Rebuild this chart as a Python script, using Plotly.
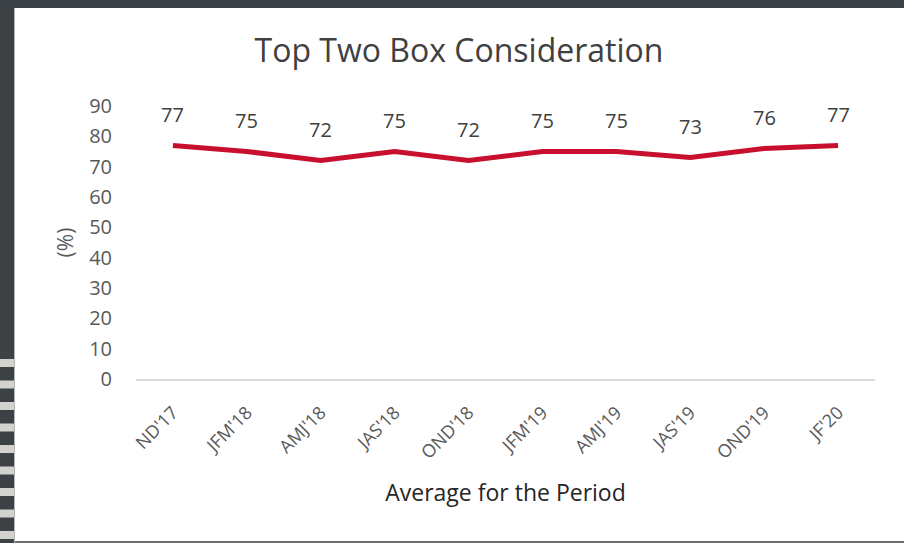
import plotly.graph_objects as go

periods = ["ND'17", "JFM'18", "AMJ'18", "JAS'18", "OND'18", "JFM'19", "AMJ'19", "JAS'19", "OND'19", "JF'20"]
values = [77, 75, 72, 75, 72, 75, 75, 73, 76, 77]
y_ticks = [0, 10, 20, 30, 40, 50, 60, 70, 80, 90]

W, H = 904, 543
ML, MR, MT, MB = 136, 29, 106, 164
PW, PH = W - ML - MR, H - MT - MB
FONT = "Open Sans"


def px_x(px):
    return (px - ML) / PW


def px_y(py):
    return (H - MB - py) / PH


fig = go.Figure()
fig.add_trace(go.Scatter(
    x=periods, y=values, mode="lines",
    line=dict(color="#C8102E", width=5),
    hoverinfo="x+y", showlegend=False,
))

annotations = []
for p, v in zip(periods, values):
    annotations.append(dict(
        x=p, y=v, xref="x", yref="y", text=str(v), showarrow=False,
        yshift=31, font=dict(family=FONT, size=20, color="#404040"),
    ))

shapes = []
# white slide area
shapes.append(dict(type="rect", xref="paper", yref="paper", layer="below",
                   x0=px_x(15), x1=px_x(904), y0=px_y(541), y1=px_y(8),
                   fillcolor="white", line=dict(width=0)))
# bottom grey edge
shapes.append(dict(type="rect", xref="paper", yref="paper", layer="below",
                   x0=px_x(15), x1=px_x(904), y0=px_y(543), y1=px_y(541),
                   fillcolor="#6e6e6e", line=dict(width=0)))
# left light separator line
shapes.append(dict(type="rect", xref="paper", yref="paper", layer="below",
                   x0=px_x(14), x1=px_x(15), y0=px_y(543), y1=px_y(8),
                   fillcolor="#b4b4b0", line=dict(width=0)))
# left striped edge
for top in [359, 380.5, 402, 423.5, 445, 466.5, 488, 509.5, 531]:
    shapes.append(dict(type="rect", xref="paper", yref="paper", layer="below",
                       x0=px_x(0), x1=px_x(14), y0=px_y(top + 8), y1=px_y(top),
                       fillcolor="#d2d2ce", line=dict(width=0)))

fig.update_layout(
    width=W, height=H,
    margin=dict(l=ML, r=MR, t=MT, b=MB, autoexpand=False),
    paper_bgcolor="#3b4145", plot_bgcolor="white",
    font=dict(family=FONT, color="#595959"),
    title=dict(text="Top Two Box Consideration", x=459 / W, xanchor="center",
               xref="container",
               y=1 - 51 / H, yanchor="middle", yref="container",
               font=dict(family=FONT, size=32, color="#404040")),
    xaxis=dict(
        type="category", range=[-0.5, len(periods) - 0.5],
        tickangle=-45, showgrid=False, zeroline=False,
        showline=True, linecolor="#d9d9d9", linewidth=2, ticks="",
        tickfont=dict(family=FONT, size=18, color="#595959"),
        ticklabelstandoff=14,
        title=dict(text="Average for the Period", standoff=22,
                   font=dict(family=FONT, size=23, color="#262626")),
    ),
    yaxis=dict(
        range=[0, 90], tickvals=y_ticks, showgrid=False, zeroline=False,
        showline=False, ticks="", ticklabelstandoff=23,
        tickfont=dict(family=FONT, size=20, color="#595959"),
        title=dict(text="(%)", standoff=9,
                   font=dict(family=FONT, size=21, color="#595959")),
    ),
    annotations=annotations,
    shapes=shapes,
)

fig.write_html("out.html", config={"displayModeBar": False},
               post_script="document.body.style.margin='0';document.body.style.overflow='hidden';")
